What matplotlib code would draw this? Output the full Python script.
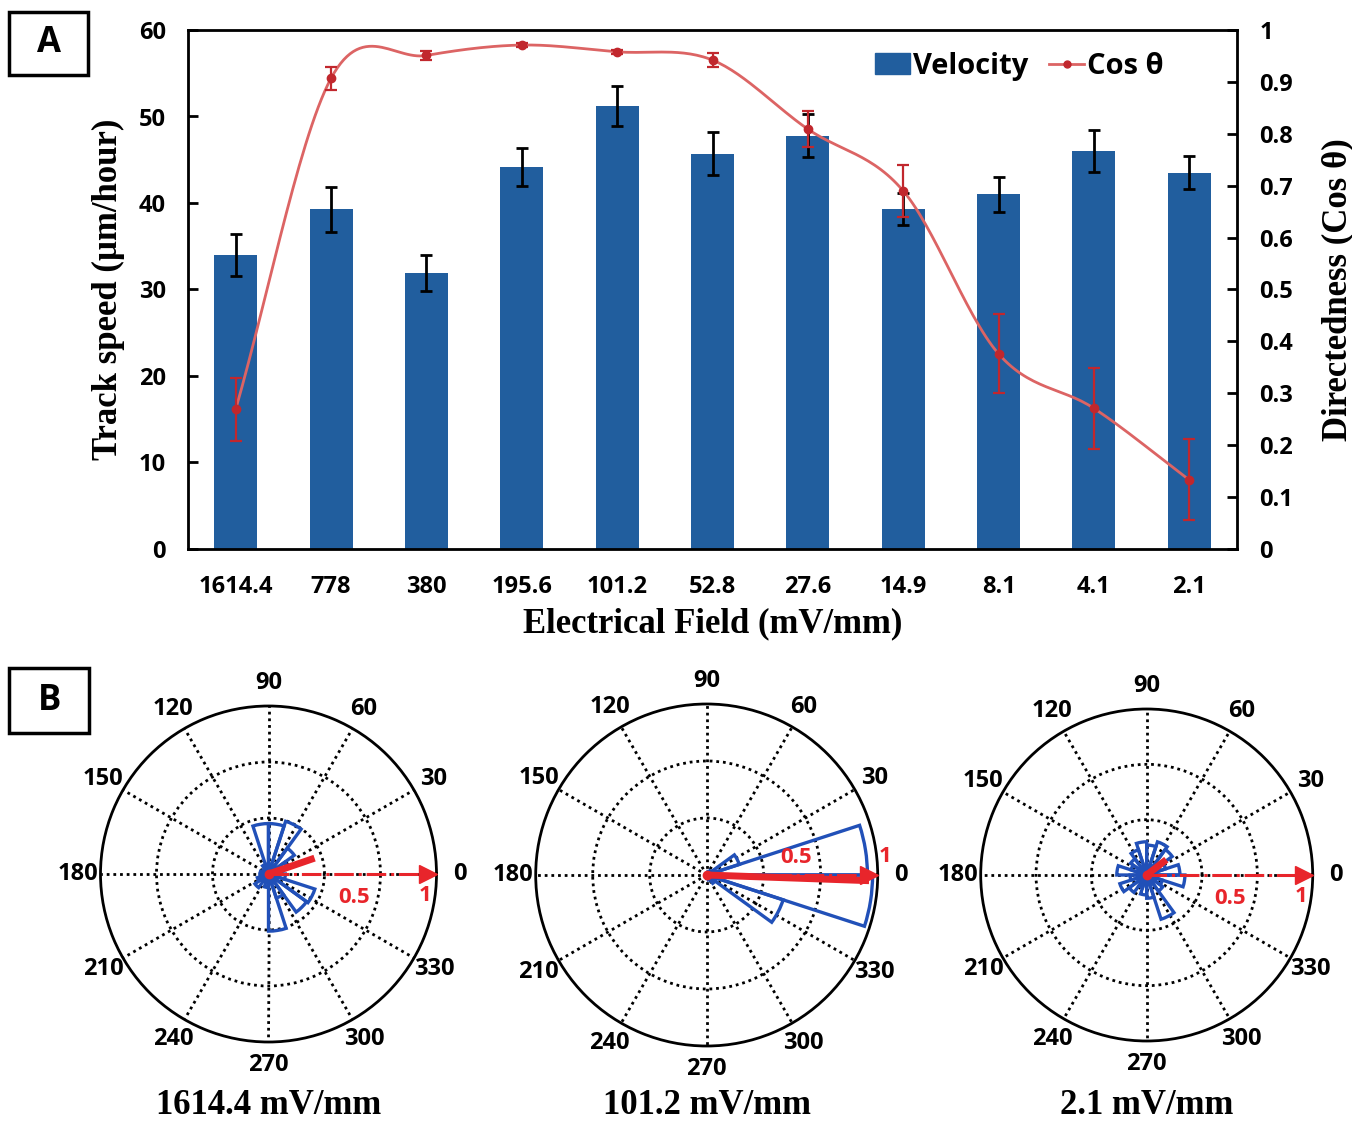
import numpy as np
import matplotlib
matplotlib.use("Agg")
import matplotlib.pyplot as plt
from matplotlib.patches import Rectangle
from matplotlib.lines import Line2D

# panel A data
fields = ["1614.4", "778", "380", "195.6", "101.2", "52.8", "27.6", "14.9", "8.1", "4.1", "2.1"]
velocity = [34.0, 39.3, 31.9, 44.2, 51.2, 45.7, 47.8, 39.3, 41.0, 46.0, 43.5]
velocity_err = [2.4, 2.6, 2.1, 2.2, 2.3, 2.5, 2.5, 1.9, 2.0, 2.4, 1.9]
cos_theta = [0.269, 0.907, 0.951, 0.971, 0.958, 0.942, 0.809, 0.690, 0.376, 0.271, 0.133]
cos_err = [0.060, 0.022, 0.008, 0.004, 0.004, 0.014, 0.035, 0.050, 0.076, 0.078, 0.078]

# panel B data: rose histograms, 18 degree bins starting at 0, radius as fraction of outer ring
rose_titles = ["1614.4 mV/mm", "101.2 mV/mm", "2.1 mV/mm"]
rose_1614 = [0.08, 0.12, 0.19, 0.33, 0.30, 0.30, 0.06, 0.04, 0.03, 0.05,
             0.05, 0.07, 0.10, 0.05, 0.08, 0.34, 0.15, 0.28, 0.29, 0.10]
rose_101 = [0.94, 0.20, 0.03, 0.02, 0.0, 0.0, 0.0, 0.0, 0.0, 0.0,
            0.0, 0.0, 0.0, 0.0, 0.0, 0.02, 0.03, 0.06, 0.47, 0.97]
rose_2 = [0.20, 0.12, 0.19, 0.21, 0.18, 0.20, 0.16, 0.12, 0.10, 0.18,
          0.10, 0.17, 0.13, 0.08, 0.12, 0.14, 0.28, 0.12, 0.10, 0.23]
mean_angle = [19, -2, 38]
mean_length = [0.29, 0.95, 0.15]
theta_ticks = list(range(0, 360, 30))

BLUE_BAR = "#215E9E"
RED_LINE = "#DC6464"
RED_MARK = "#C1272D"
ROSE_BLUE = "#2150B8"
ARROW_RED = "#E8252B"

SANS = ["Open Sans", "DejaVu Sans"]
SERIF = ["Liberation Serif", "DejaVu Serif"]


def smooth(xs, ys, n=30):
    # Catmull-Rom curve through the points, like a spreadsheet smoothed line
    xs = np.asarray(xs, float)
    ys = np.asarray(ys, float)
    px = np.concatenate([[2 * xs[0] - xs[1]], xs, [2 * xs[-1] - xs[-2]]])
    py = np.concatenate([[2 * ys[0] - ys[1]], ys, [2 * ys[-1] - ys[-2]]])
    t = np.linspace(0, 1, n, endpoint=False)
    ox, oy = [], []
    for i in range(1, len(px) - 2):
        for p, out in ((px, ox), (py, oy)):
            p0, p1, p2, p3 = p[i - 1], p[i], p[i + 1], p[i + 2]
            out.extend(0.5 * (2 * p1 + (-p0 + p2) * t
                              + (2 * p0 - 5 * p1 + 4 * p2 - p3) * t ** 2
                              + (-p0 + 3 * p1 - 3 * p2 + p3) * t ** 3))
    ox.append(xs[-1])
    oy.append(ys[-1])
    return np.array(ox), np.array(oy)


fig = plt.figure(figsize=(13.52, 11.21), dpi=100)

# ---- panel A ----
ax = fig.add_axes([188 / 1352, 1 - 549 / 1121, 1049 / 1352, 519 / 1121])
x = np.arange(len(fields))
ax.bar(x, velocity, width=0.45, color=BLUE_BAR, zorder=2)
ax.errorbar(x, velocity, yerr=velocity_err, fmt="none", ecolor="black",
            elinewidth=2, capsize=4, capthick=2, zorder=3)
ax.set_xlim(-0.5, len(fields) - 0.5)
ax.set_ylim(0, 60)
ax.set_yticks(range(0, 61, 10))
ax.set_xticks(x)
ax.set_xticklabels(fields)
ax.tick_params(axis="x", length=0, pad=19)
ax.tick_params(axis="y", direction="in", length=7, width=2, pad=16)
for lab in ax.get_xticklabels() + ax.get_yticklabels():
    lab.set_family(SANS)
    lab.set_weight("bold")
    lab.set_fontsize(17)
for sp in ax.spines.values():
    sp.set_linewidth(2)
ax.set_xlabel("Electrical Field (mV/mm)", family=SERIF, weight="bold",
              fontsize=25, labelpad=6)
ax.set_ylabel("Track speed (µm/hour)", family=SERIF, weight="bold",
              fontsize=25, labelpad=10)

ax2 = ax.twinx()
ax2.set_ylim(0, 1)
ax2.set_yticks(np.arange(0, 1.01, 0.1))
ax2.set_yticklabels(["0", "0.1", "0.2", "0.3", "0.4", "0.5", "0.6", "0.7", "0.8", "0.9", "1"])
ax2.tick_params(axis="y", direction="in", length=7, width=2, pad=16)
for lab in ax2.get_yticklabels():
    lab.set_family(SANS)
    lab.set_weight("bold")
    lab.set_fontsize(17)
ax2.set_ylabel("Directedness (Cos θ)", family=SERIF, weight="bold",
               fontsize=25, labelpad=20)
sx, sy = smooth(x, cos_theta)
ax2.plot(sx, sy, color=RED_LINE, lw=2, zorder=3)
ax2.errorbar(x, cos_theta, yerr=cos_err, fmt="o", color=RED_MARK, ms=6,
             ecolor=RED_MARK, elinewidth=1.6, capsize=4, capthick=1.6, zorder=4)

handles = [Rectangle((0, 0), 1, 1, color=BLUE_BAR),
           Line2D([0], [0], color=RED_LINE, lw=2, marker="o", ms=5,
                  markerfacecolor=RED_MARK, markeredgecolor=RED_MARK)]
ax2.legend(handles, ["Velocity", "Cos θ"], loc="center right",
           bbox_to_anchor=(0.955, 0.93), ncol=2, frameon=False,
           handlelength=1.2, handletextpad=0.1, columnspacing=0.7,
           prop={"family": SANS, "weight": "bold", "size": 21})

# ---- panel B ----
rose_data = [rose_1614, rose_101, rose_2]
centers = [(268.5, 874, 168), (706.7, 875, 171), (1146.7, 875, 166)]
title_y = [-0.1875, -0.175, -0.193]
label_pos = [((-15, 0.53), (-8, 0.94)), ((11, 0.53), (6, 1.05)), ((-16, 0.52), (-8, 0.94))]
edges = np.deg2rad(np.arange(0, 360, 18))
width = np.deg2rad(18)
for i, (cx, cy, r) in enumerate(centers):
    pax = fig.add_axes([(cx - r) / 1352, 1 - (cy + r) / 1121, 2 * r / 1352, 2 * r / 1121],
                       projection="polar")
    pax.set_ylim(0, 1)
    pax.set_rgrids([1 / 3, 2 / 3], labels=["", ""])
    pax.set_thetagrids(theta_ticks, labels=[str(t) for t in theta_ticks])
    pax.grid(True, color="black", linestyle=(0, (1, 1.4)), linewidth=2)
    pax.spines["polar"].set_linewidth(2)
    pax.xaxis.set_tick_params(pad=6)
    for lab in pax.get_xticklabels():
        lab.set_family(SANS)
        lab.set_weight("bold")
        lab.set_fontsize(17)
    pax.bar(edges, rose_data[i], width=width, align="edge", fill=False,
            edgecolor=ROSE_BLUE, linewidth=2.4, zorder=3)
    # reference axis arrow
    pax.plot([0, 0], [0, 0.93], color=ARROW_RED, lw=2.2, ls="-.", zorder=4)
    pax.plot([0], [0.95], marker=">", color=ARROW_RED, ms=13, zorder=4, clip_on=False)
    # mean direction vector
    a = np.deg2rad(mean_angle[i])
    pax.plot([a, a], [0, mean_length[i]], color=ARROW_RED, lw=5, zorder=5,
             solid_capstyle="butt")
    pax.plot([0], [0], marker="o", color=ARROW_RED, ms=6, zorder=5)
    (a1, r1), (a2, r2) = label_pos[i]
    pax.text(np.deg2rad(a1), r1, "0.5", color=ARROW_RED, ha="center", va="center",
             family=SANS, weight="bold", fontsize=16, zorder=6)
    pax.text(np.deg2rad(a2), r2, "1", color=ARROW_RED, ha="center", va="center",
             family=SANS, weight="bold", fontsize=16, zorder=6)
    pax.text(0.5, title_y[i], rose_titles[i], transform=pax.transAxes, ha="center",
             va="center", family=SERIF, weight="bold", fontsize=25)

# panel letters
for (x0, y0, x1, y1), letter in [((9.3, 11.7, 88.3, 75), "A"), ((9.3, 668.3, 89.3, 732.7), "B")]:
    fig.patches.append(Rectangle((x0 / 1352, 1 - y1 / 1121), (x1 - x0) / 1352,
                                 (y1 - y0) / 1121, transform=fig.transFigure,
                                 fill=False, edgecolor="black", linewidth=2.5))
    fig.text((x0 + x1) / 2 / 1352, 1 - (y0 + y1) / 2 / 1121, letter, ha="center",
             va="center", family=SANS, weight="bold", fontsize=25)

fig.savefig("out.png", dpi=100)
